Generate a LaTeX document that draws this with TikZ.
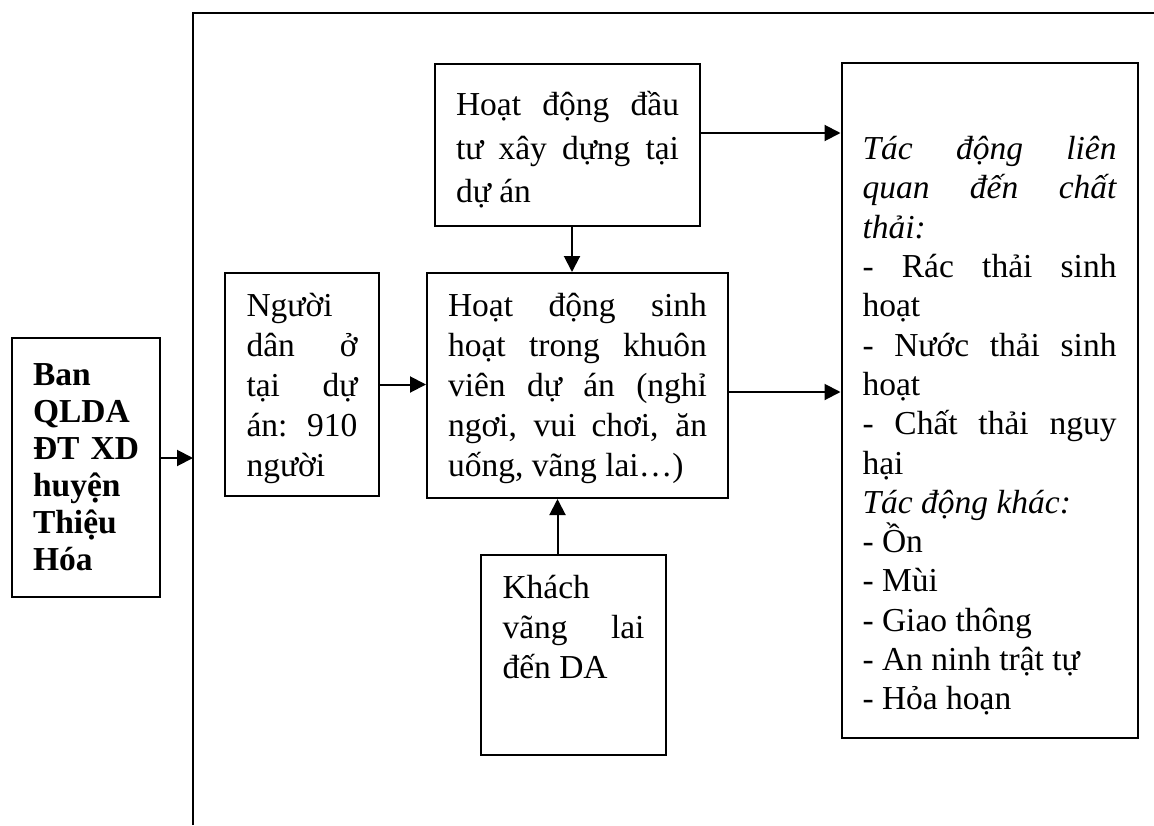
\documentclass[tikz,border=0pt]{standalone}
\usepackage{fontspec}
\setmainfont{Liberation Serif}
\usetikzlibrary{arrows.meta}
\tikzset{
  box/.style={draw, line width=2pt, inner xsep=21pt, inner ysep=0pt, align=justify,
    font=\fontsize{33.5}{40}\selectfont,
    execute at begin node={\parindent=0pt\tolerance=10000\hyphenpenalty=10000\relax}},
  flow/.style={line width=2pt, -{Triangle[length=16pt,width=16pt]}},
  frame/.style={line width=2.4pt}
}
\begin{document}
\begin{tikzpicture}[x=1pt, y=-1pt]
  \useasboundingbox (0,0) rectangle (1154,825);

  % outer frame (open to the right and bottom)
  \coordinate (fb) at (193,825);
  \coordinate (ft) at (193,13);
  \coordinate (fr) at (1154,13);
  \draw[frame] (fb) -- (ft) -- (fr);
  \coordinate (banin) at (193,458);

  \node[box, font=\fontsize{33.5}{37}\selectfont\bfseries, text width=106pt,
    minimum width=148pt, minimum height=259pt] (ban) at (86,467.5)
    {Ban\newline QLDA\newline ĐT XD\linebreak huyện\newline Thiệu\newline Hóa};

  \node[box, font=\fontsize{33.5}{43.5}\selectfont, text width=223pt,
    minimum width=265pt, minimum height=162pt] (tu) at (567.5,145)
    {\rule{0pt}{34pt}Hoạt động đầu\linebreak tư xây dựng tại\linebreak dự án};

  \node[box, text width=111pt, minimum width=154pt, minimum height=223pt] (dan) at (302,384.5)
    {\rule{0pt}{32pt}Người\newline dân ở\linebreak tại dự\linebreak án: 910\linebreak người};

  \node[box, text width=259pt, minimum width=301pt, minimum height=225pt] (sh) at (577.5,385.5)
    {\rule{0pt}{30pt}Hoạt động sinh\linebreak hoạt trong khuôn\linebreak viên dự án (nghỉ\linebreak
     ngơi, vui chơi, ăn\linebreak uống, vãng lai…)};

  \node[box, text width=142pt, minimum width=185pt, minimum height=200pt] (khach) at (573.5,655)
    {Khách\newline vãng lai\linebreak đến DA\rule[-56pt]{0pt}{56pt}};

  \node[box, font=\fontsize{33.5}{39.3}\selectfont, text width=254pt,
    minimum width=295pt, minimum height=675pt] (imp) at (989.5,400.5)
    {\rule{0pt}{74pt}\textit{Tác động liên\linebreak quan đến chất\linebreak thải:}\newline
     - Rác thải sinh\linebreak hoạt\newline
     - Nước thải sinh\linebreak hoạt\newline
     - Chất thải nguy\linebreak hại\newline
     \textit{Tác động khác:}\newline
     - Ồn\newline
     - Mùi\newline
     - Giao thông\newline
     - An ninh trật tự\newline
     - Hỏa hoạn};

  % connectors
  \draw[flow] (ban.east |- banin) -- (banin);
  \draw[flow] ([yshift=12pt]tu.east) -- ([yshift=12pt]tu.east -| imp.west);
  \draw[flow] ([xshift=4.5pt]tu.south) -- ([xshift=4.5pt]tu.south |- sh.north);
  \draw[flow] (dan.east) -- (dan.east -| sh.west);
  \draw[flow] ([yshift=-6.5pt]sh.east) -- ([yshift=-6.5pt]sh.east -| imp.west);
  \draw[flow] ([xshift=-16pt]khach.north) -- ([xshift=-16pt]khach.north |- sh.south);
\end{tikzpicture}
\end{document}
